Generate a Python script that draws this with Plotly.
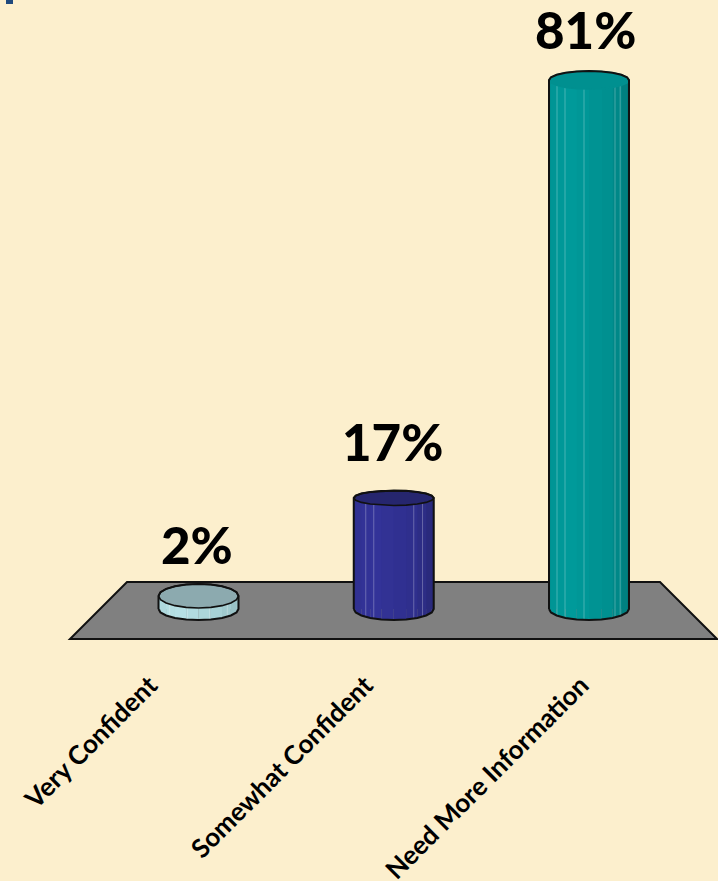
import math
import plotly.graph_objects as go

# ---- data ----
categories = ["Very Confident", "Somewhat Confident", "Need More Information"]
values = [2, 17, 81]
value_labels = ["2%", "17%", "81%"]

# ---- style ----
W, H = 718, 881
BG = "#FCEFCD"
FONT = "Lato"
side_stops = [
    ["#A9D3D8", "#B7E1E6", "#A6D0D4", "#8FB6BA"],
    ["#30308C", "#333399", "#2F2F8C", "#26266F"],
    ["#009090", "#009B9B", "#008F8F", "#007474"],
]
top_fill = ["#8CAAAF", "#26266E", "#009090"]
top_edge = ["#111111", "#111111", None]
highlights = [
    [-0.72, -0.28, 0.28, 0.72],
    [-0.70, -0.50, 0.50, 0.72],
    [-0.80, -0.60, -0.125, 0.65, 0.78],
]
top_b_px = [12, 7.5, 9]
BOTTOM_B_PX = 11
N_FACETS = 10

# axis calibration (pixels)
BASE_PX = 609
PX_PER_UNIT = 6.53
C0_PX = 198.5
STEP_PX = 195.25
HALF_PX = 40

y_range = [-(H - BASE_PX) / PX_PER_UNIT, BASE_PX / PX_PER_UNIT]
x2_range = [-C0_PX / STEP_PX, (W - C0_PX) / STEP_PX]
half = HALF_PX / STEP_PX


def hex_rgb(c):
    return [int(c[i:i + 2], 16) for i in (1, 3, 5)]


def ramp(stops, t):
    p = t * (len(stops) - 1)
    i = min(int(p), len(stops) - 2)
    f = p - i
    a, b = hex_rgb(stops[i]), hex_rgb(stops[i + 1])
    return "rgb(%d,%d,%d)" % tuple(round(a[k] + (b[k] - a[k]) * f) for k in range(3))


def px(x):
    return x / W


def py(y):
    return 1 - y / H


fig = go.Figure()

# hidden carrier for the slanted category axis
fig.add_trace(go.Scatter(x=[0, 1, 2], y=values, mode="none", xaxis="x", yaxis="y",
                         hoverinfo="skip", showlegend=False))

# the bars themselves
fig.add_trace(go.Bar(x=[0, 1, 2], y=values, width=2 * half, xaxis="x2", yaxis="y",
                     marker=dict(color=[s[1] for s in side_stops], line=dict(width=0)),
                     hovertext=categories, showlegend=False))

angles = [math.pi * k / N_FACETS for k in range(N_FACETS + 1)]
for i, v in enumerate(values):
    b_bot = BOTTOM_B_PX / PX_PER_UNIT
    b_top = top_b_px[i] / PX_PER_UNIT
    xs = [i - half * math.cos(a) for a in angles]
    front_bot = [-b_bot * math.sin(a) for a in angles]
    front_top = [v - b_top * math.sin(a) for a in angles]
    # side facets
    for k in range(N_FACETS):
        fig.add_trace(go.Scatter(
            x=[xs[k], xs[k + 1], xs[k + 1], xs[k], xs[k]],
            y=[front_bot[k], front_bot[k + 1], front_top[k + 1], front_top[k], front_bot[k]],
            mode="lines", fill="toself", fillcolor=ramp(side_stops[i], (k + 0.5) / N_FACETS),
            line=dict(width=0), xaxis="x2", yaxis="y", hoverinfo="skip", showlegend=False))
    # thin light facet seams
    for h in highlights[i]:
        a = math.acos(-h)
        fig.add_trace(go.Scatter(
            x=[i + h * half] * 2,
            y=[-b_bot * math.sin(a), v - b_top * math.sin(a)],
            mode="lines", line=dict(color="rgba(255,255,255,0.28)", width=1),
            xaxis="x2", yaxis="y", hoverinfo="skip", showlegend=False))
    # top cap
    ring = [math.pi + 2 * math.pi * k / (2 * N_FACETS) for k in range(2 * N_FACETS + 1)]
    capx = [i + half * math.cos(a) for a in ring]
    capy = [v - b_top * math.sin(a) for a in ring]
    fig.add_trace(go.Scatter(x=capx, y=capy, mode="lines", fill="toself", fillcolor=top_fill[i],
                             line=dict(color=top_edge[i] or top_fill[i], width=1.6),
                             xaxis="x2", yaxis="y", hoverinfo="skip", showlegend=False))
    # outer silhouette
    upper = [v + b_top * math.sin(a) for a in angles]
    sx = xs + xs[::-1]
    sy = front_bot + upper[::-1]
    sx.append(sx[0])
    sy.append(sy[0])
    fig.add_trace(go.Scatter(x=sx, y=sy, mode="lines", line=dict(color="#111111", width=2),
                             xaxis="x2", yaxis="y", hoverinfo="skip", showlegend=False))

label_shift = [-1.5, -1, -4]
label_lift = [19, 24, 18]
annotations = [
    dict(x=i, y=v, xref="x2", yref="y", text=value_labels[i], showarrow=False,
         yanchor="bottom", xanchor="center", xshift=label_shift[i], yshift=label_lift[i],
         font=dict(family=FONT, size=51, color="#000000", weight=900))
    for i, v in enumerate(values)
]

floor = [(127, 582), (660, 582), (717, 639), (70, 639)]
floor_path = "M " + " L ".join(f"{px(x):.5f},{py(y):.5f}" for x, y in floor) + " Z"
shapes = [
    dict(type="path", xref="paper", yref="paper", path=floor_path, layer="below",
         fillcolor="#808080", line=dict(color="#111111", width=2)),
    dict(type="rect", xref="paper", yref="paper", x0=px(6), x1=px(13), y0=py(4), y1=py(0),
         fillcolor="#1F497D", line=dict(width=0), layer="below"),
]

fig.update_layout(
    width=W, height=H, autosize=False,
    margin=dict(l=0, r=0, t=0, b=0),
    paper_bgcolor=BG, plot_bgcolor="rgba(0,0,0,0)",
    showlegend=False, barmode="overlay",
    font=dict(family=FONT, color="#000000"),
    xaxis=dict(domain=[42 / W, 689 / W], range=[-0.5, 2.5], tickmode="array",
               tickvals=[0, 1, 2], ticktext=categories, tickangle=-45,
               tickfont=dict(family=FONT, size=26, color="#000000", weight=700),
               showgrid=False, zeroline=False, showline=False, ticks="",
               anchor="free", position=(H - 664) / H, automargin=False),
    xaxis2=dict(domain=[0, 1], range=x2_range, visible=False, anchor="y"),
    yaxis=dict(domain=[0, 1], range=y_range, visible=False, fixedrange=True),
    annotations=annotations, shapes=shapes,
)

fig.write_html("out.html", config={"displayModeBar": False},
               post_script="document.body.style.margin='0';document.body.style.overflow='hidden';")
